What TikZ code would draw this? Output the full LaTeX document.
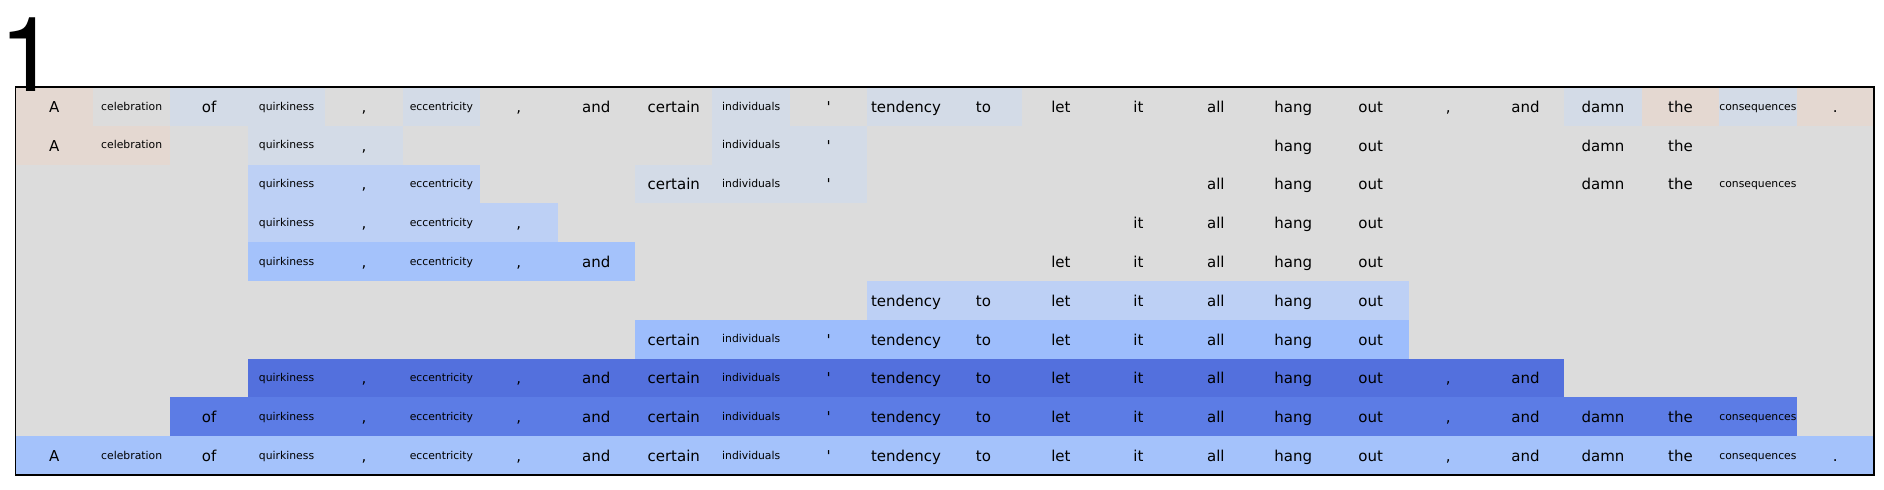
\documentclass[tikz,border=0pt]{standalone}
\usepackage{fontspec}
\newfontfamily\cellfont{DejaVu Sans}
\newfontfamily\panelfont{TeX Gyre Heros}

\definecolor{cellbg}{RGB}{220,220,220}
\definecolor{warm}{RGB}{228,216,209}
\definecolor{cool}{RGB}{211,219,231}
\definecolor{pale}{RGB}{189,208,245}
\definecolor{soft}{RGB}{164,194,251}
\definecolor{sky}{RGB}{157,189,252}
\definecolor{deep}{RGB}{83,112,221}
\definecolor{royal}{RGB}{92,124,229}

\def\cw{1.5488}
\def\rh{0.776}

% small type for the long words
\newcommand{\smword}[1]{\raisebox{0.046cm}{\fontsize{6.15}{7}\selectfont #1}}
\newcommand{\word}[1]{\ifcase#1 A\or\smword{celebration}\or of\or\smword{quirkiness}\or ,\or\smword{eccentricity}\or ,\or and\or certain\or\smword{individuals}\or \char39\relax\or tendency\or to\or let\or it\or all\or hang\or out\or ,\or and\or damn\or the\or\smword{consequences}\or .\fi}

\tikzset{
    cell/.style={inner sep=0pt, text height=0.3cm, text depth=0.064cm,
        font=\cellfont\fontsize{8.54}{10}\selectfont, text=black},
    panel/.style={font=\panelfont\fontsize{59.2}{62}\selectfont, inner sep=0pt, anchor=base west}
}

\begin{document}
\begin{tikzpicture}
        \useasboundingbox (-0.31,1.74) rectangle (37.37,-8.04);
        % Draw background
        \fill[cellbg] (0,0) rectangle ({24*\cw},{-10*\rh});
        % Draw coloured spans (row/first/last/colour)
        \foreach \r/\a/\b/\col in {1/0/0/warm, 1/2/3/cool, 1/5/5/cool, 1/9/9/cool, 1/11/12/cool,
                1/20/20/cool, 1/21/21/warm, 1/22/22/cool, 1/23/23/warm,
                2/0/1/warm, 2/3/4/cool, 2/9/10/cool,
                3/3/5/pale, 3/8/10/cool,
                4/3/6/pale, 5/3/7/soft, 6/11/17/pale, 7/8/17/sky,
                8/3/19/deep, 9/2/22/royal, 10/0/23/soft}
            \fill[fill=\col] ({\a*\cw},{-(\r-1)*\rh}) rectangle ({(\b+1)*\cw},{-\r*\rh});
        % Draw frame
        \draw[black, line width=0.03cm] (0,0) rectangle ({24*\cw},{-10*\rh});
        % Add the words
        \foreach \r/\cols in {1/{0,...,23}, 2/{0,1,3,4,9,10,16,17,20,21},
                3/{3,4,5,8,9,10,15,16,17,20,21,22}, 4/{3,4,5,6,14,15,16,17},
                5/{3,4,5,6,7,13,14,15,16,17}, 6/{11,...,17}, 7/{8,...,17},
                8/{3,...,19}, 9/{2,...,22}, 10/{0,...,23}}
            \foreach \c in \cols
                \node[cell] (w-\r-\c) at ({(\c+0.5)*\cw},{-(\r-0.5)*\rh}) {\word{\c}};
        % Add the panel number
        \node[panel] (num) at (-0.334,-0.094) {1};
\end{tikzpicture}
\end{document}
